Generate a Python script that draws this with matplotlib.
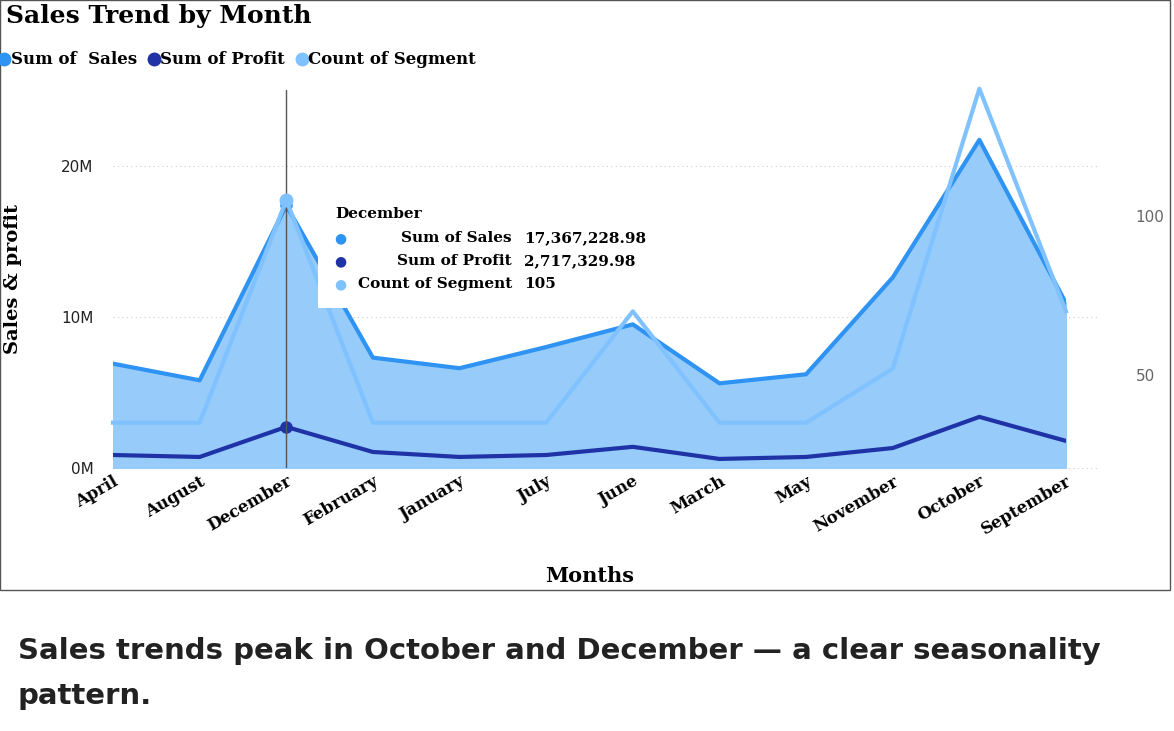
import matplotlib
matplotlib.use("Agg")
import matplotlib.pyplot as plt
from matplotlib.lines import Line2D
from matplotlib.patches import Rectangle
from matplotlib.ticker import FuncFormatter

months = ["April", "August", "December", "February", "January", "July",
          "June", "March", "May", "November", "October", "September"]
sales = [6.9, 5.8, 17.37, 7.3, 6.6, 8.0, 9.5, 5.6, 6.2, 12.6, 21.7, 10.9]  # millions
profit = [0.86, 0.73, 2.72, 1.06, 0.73, 0.86, 1.4, 0.6, 0.73, 1.32, 3.38, 1.79]
count = [35, 35, 105, 35, 35, 35, 70, 35, 35, 52, 140, 70]

c_sales = "#2e93f2"
c_profit = "#1f33a6"
c_count = "#80c2ff"
c_fill = "#96cbfa"
serif = "DejaVu Serif"

fig = plt.figure(figsize=(11.74, 7.31), dpi=100)
fig.patches.append(Rectangle((0, 1 - 590 / 731), 1170 / 1174, 590 / 731, transform=fig.transFigure,
                             fill=False, edgecolor="#555555", linewidth=1))

ax = fig.add_axes([113 / 1174, 1 - 468 / 731, 953 / 1174, 378 / 731])
ax2 = ax.twinx()
x = list(range(len(months)))

ax.fill_between(x, sales, color=c_fill, zorder=1)
ax.plot(x, sales, color=c_sales, linewidth=3, zorder=3)
ax.plot(x, profit, color=c_profit, linewidth=3, zorder=3)
ax2.plot(x, count, color=c_count, linewidth=3, clip_on=False)
ax2.plot([2], [count[2]], "o", color=c_count, markersize=9)
ax.plot([2], [sales[2]], "o", color=c_sales, markersize=8, zorder=4)
ax.plot([2], [profit[2]], "o", color=c_profit, markersize=8, zorder=4)
ax.axvline(2, color="#555555", linewidth=1, zorder=5)

ax.set_xlim(0, 11)
ax.set_ylim(0, 25)
ax2.set_ylim(20.75, 139.6)
ax.set_yticks([0, 10, 20])
ax.yaxis.set_major_formatter(FuncFormatter(lambda v, _: f"{v:.0f}M"))
ax2.set_yticks([50, 100])
for a in (ax, ax2):
    for s in a.spines.values():
        s.set_visible(False)
    a.tick_params(length=0)
ax.tick_params(axis="y", labelsize=11, colors="#222222", pad=14)
ax2.tick_params(axis="y", labelsize=11, colors="#666666", pad=50)
for yv in (0, 10, 20):
    ax.axhline(yv, xmax=1.035, color="#cccccc", linestyle=(0, (1, 3)), linewidth=0.8, clip_on=False, zorder=0)

ax.set_xticks(x)
ax.set_xticklabels(months, rotation=30, ha="right", rotation_mode="anchor",
                   fontfamily=serif, fontweight="bold", fontsize=12)
ax.set_xlabel("Months", fontfamily=serif, fontweight="bold", fontsize=15, labelpad=20)
ax.set_ylabel("Sales & profit", fontfamily=serif, fontweight="bold", fontsize=14, labelpad=28)
ax2.set_ylabel("Count of Segment", fontsize=11, color="#333333", labelpad=8)

fig.text(6 / 1174, 1 - 16 / 731, "Sales Trend by Month", fontfamily=serif, fontweight="bold",
         fontsize=18, va="center")
handles = [Line2D([], [], marker="o", linestyle="", color=c, markersize=9) for c in (c_sales, c_profit, c_count)]
fig.legend(handles, ["Sum of  Sales", "Sum of Profit", "Count of Segment"], loc="center left",
           bbox_to_anchor=(-0.012, 1 - 60 / 731), ncol=3, frameon=False, handletextpad=-0.2,
           handlelength=1.2, columnspacing=0.4, borderpad=0,
           prop={"family": serif, "weight": "bold", "size": 12})

# tooltip
fig.patches.append(Rectangle((318 / 1174, 1 - 308 / 731), 222 / 1174, 111 / 731,
                             transform=fig.transFigure, facecolor="white", edgecolor="none", zorder=10))
fig.text(335 / 1174, 1 - 214 / 731, "December", fontfamily=serif, fontweight="bold", fontsize=11,
         va="center", zorder=11)
rows = [("Sum of Sales", "17,367,228.98", c_sales), ("Sum of Profit", "2,717,329.98", c_profit),
        ("Count of Segment", "105", c_count)]
for i, (lab, val, c) in enumerate(rows):
    yy = 1 - (238 + 23 * i) / 731
    fig.text(340 / 1174, yy, "\u25CF", color=c, fontsize=10, va="center", ha="center", zorder=11)
    fig.text(512 / 1174, yy, lab, fontfamily=serif, fontweight="bold", fontsize=11,
             va="center", ha="right", zorder=11)
    fig.text(524 / 1174, yy, val, fontfamily=serif, fontweight="bold", fontsize=11,
             va="center", ha="left", zorder=11)

fig.text(18 / 1174, 1 - 651 / 731, "Sales trends peak in October and December \u2014 a clear seasonality",
         fontfamily="DejaVu Sans", fontweight="bold", fontsize=21, color="#222222", va="center")
fig.text(18 / 1174, 1 - 696 / 731, "pattern.", fontfamily="DejaVu Sans", fontweight="bold",
         fontsize=21, color="#222222", va="center")

fig.savefig("out.png", dpi=100)
